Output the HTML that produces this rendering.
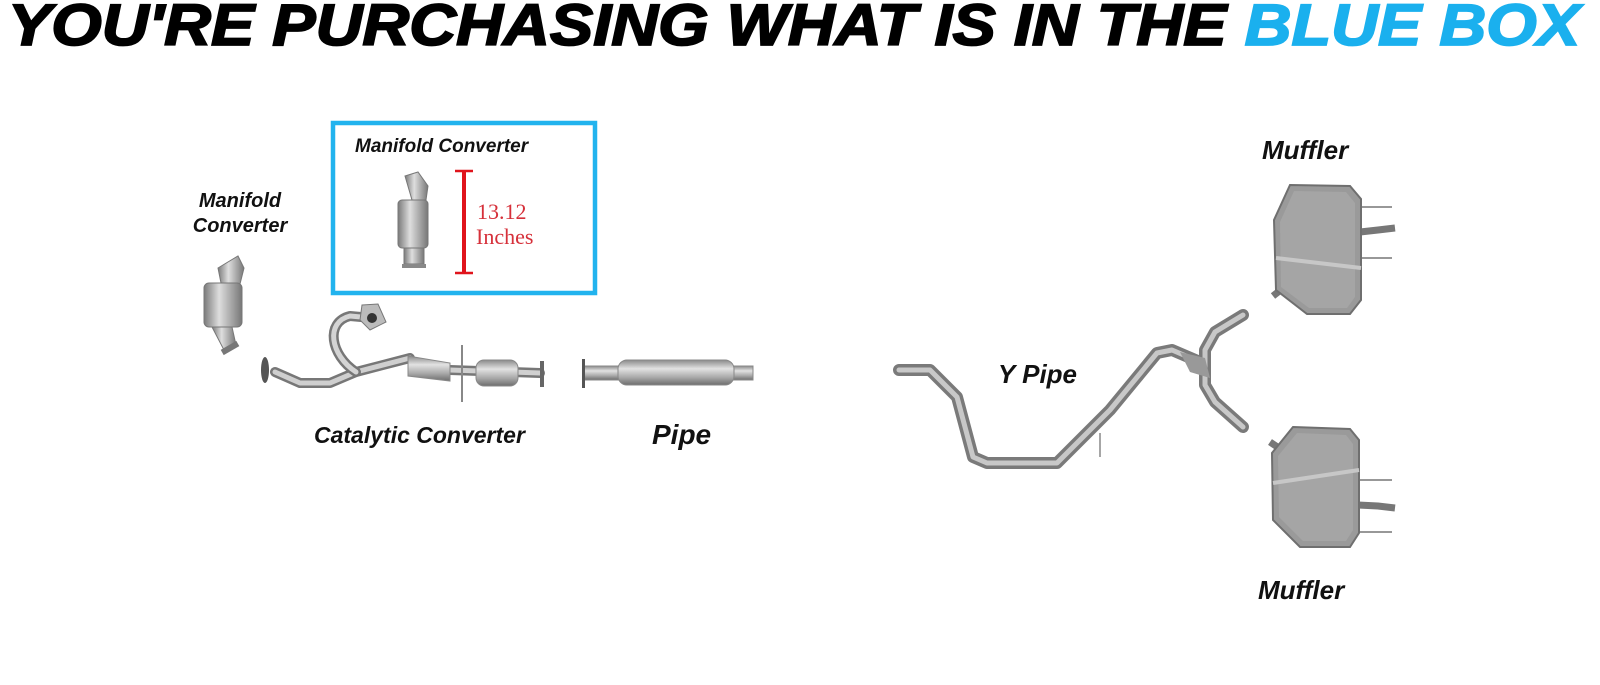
<!DOCTYPE html>
<html><head><meta charset="utf-8"><style>
html,body{margin:0;padding:0;background:#fff;}
svg{display:block;}
.lbl{font-family:"Liberation Sans",sans-serif;font-weight:bold;font-style:italic;fill:#111;}
</style></head><body>
<svg width="1600" height="685" viewBox="0 0 1600 685" xmlns="http://www.w3.org/2000/svg">
<defs>
<linearGradient id="gv" x1="0" y1="0" x2="0" y2="1">
<stop offset="0" stop-color="#8a8a8a"/><stop offset="0.35" stop-color="#e2e2e2"/><stop offset="0.7" stop-color="#a8a8a8"/><stop offset="1" stop-color="#6d6d6d"/></linearGradient>
<linearGradient id="gh" x1="0" y1="0" x2="1" y2="0">
<stop offset="0" stop-color="#7a7a7a"/><stop offset="0.4" stop-color="#dedede"/><stop offset="1" stop-color="#777"/></linearGradient>
</defs>
<!-- Title -->
<text x="8" y="45" font-family="Liberation Sans,sans-serif" font-weight="bold" font-style="italic" font-size="58" stroke-width="1.8" textLength="1572" lengthAdjust="spacingAndGlyphs"><tspan fill="#000" stroke="#000">YOU'RE PURCHASING WHAT IS IN THE </tspan><tspan fill="#1ab0ee" stroke="#1ab0ee">BLUE BOX</tspan></text>

<!-- Blue box -->
<rect x="333" y="123" width="262" height="170" fill="none" stroke="#22b3ee" stroke-width="4.5"/>
<text class="lbl" x="355" y="152" font-size="19">Manifold Converter</text>
<g>
<path d="M405 176 L418 172 L428 186 L426 200 L412 200 Z" fill="url(#gh)" stroke="#777"/>
<rect x="398" y="200" width="30" height="48" rx="4" fill="url(#gh)" stroke="#777"/>
<rect x="404" y="248" width="20" height="16" fill="url(#gh)" stroke="#777"/>
<rect x="402" y="264" width="24" height="4" fill="#888"/>
</g>
<line x1="464" y1="170" x2="464" y2="274" stroke="#e0141c" stroke-width="4"/>
<line x1="455" y1="171" x2="473" y2="171" stroke="#e0141c" stroke-width="2.5"/>
<line x1="455" y1="273" x2="473" y2="273" stroke="#e0141c" stroke-width="2.5"/>
<text x="477" y="219" font-family="Liberation Serif,serif" font-size="22" fill="#d6303a">13.12</text>
<text x="476" y="244" font-family="Liberation Serif,serif" font-size="22" fill="#d6303a">Inches</text>

<!-- Left manifold converter -->
<text class="lbl" x="240" y="207" font-size="20" text-anchor="middle">Manifold</text>
<text class="lbl" x="240" y="232" font-size="20" text-anchor="middle">Converter</text>
<g>
<path d="M218 268 L238 256 L244 268 L240 284 L222 288 Z" fill="url(#gh)" stroke="#777"/>
<rect x="204" y="283" width="38" height="44" rx="5" fill="url(#gh)" stroke="#777"/>
<path d="M212 327 L232 327 L236 345 L224 350 Z" fill="url(#gh)" stroke="#777"/>
<rect x="221" y="345" width="18" height="6" fill="#777" transform="rotate(-30 230 348)"/>
</g>

<!-- Catalytic converter assembly -->
<g fill="none" stroke-linecap="round" stroke-linejoin="round">
<path d="M275 372 L300 383 L330 383 L356 372 L410 358" stroke="#777" stroke-width="10"/>
<path d="M275 372 L300 383 L330 383 L356 372 L410 358" stroke="#cfcfcf" stroke-width="5"/>
<path d="M356 372 C330 355 325 322 350 316 L372 318" stroke="#777" stroke-width="10"/>
<path d="M356 372 C330 355 325 322 350 316 L372 318" stroke="#d4d4d4" stroke-width="5"/>
<path d="M450 370 L540 373" stroke="#777" stroke-width="10"/>
<path d="M450 370 L540 373" stroke="#d0d0d0" stroke-width="5"/>
</g>
<path d="M408 356 L450 363 L450 381 L408 376 Z" fill="url(#gv)" stroke="#888"/>
<rect x="476" y="360" width="42" height="26" rx="8" fill="url(#gv)" stroke="#888"/>
<line x1="462" y1="345" x2="462" y2="402" stroke="#888" stroke-width="2"/>
<rect x="540" y="361" width="4" height="26" fill="#666"/>
<ellipse cx="265" cy="370" rx="4" ry="13" fill="#555"/>
<path d="M362 305 L378 304 L386 322 L370 330 L360 320 Z" fill="#bbb" stroke="#777"/>
<circle cx="372" cy="318" r="5" fill="#333"/>
<text class="lbl" x="314" y="443" font-size="23">Catalytic Converter</text>

<!-- Pipe -->
<rect x="583" y="366" width="170" height="14" fill="url(#gv)" stroke="#888"/>
<rect x="618" y="360" width="116" height="25" rx="9" fill="url(#gv)" stroke="#888"/>
<rect x="582" y="359" width="3" height="29" fill="#555"/>
<text class="lbl" x="652" y="444" font-size="28">Pipe</text>

<!-- Y pipe -->
<g fill="none" stroke-linecap="round" stroke-linejoin="round">
<path d="M899 370 L930 370 L957 397 L973 457 L987 463 L1057 463 L1110 410 L1157 353 L1172 350 L1200 362" stroke="#7a7a7a" stroke-width="12"/>
<path d="M899 370 L930 370 L957 397 L973 457 L987 463 L1057 463 L1110 410 L1157 353 L1172 350 L1200 362" stroke="#c8c8c8" stroke-width="5"/>
<path d="M1243 315 L1215 332 L1205 350 L1205 385 L1215 402 L1243 427" stroke="#7a7a7a" stroke-width="12"/>
<path d="M1243 315 L1215 332 L1205 350 L1205 385 L1215 402 L1243 427" stroke="#c8c8c8" stroke-width="5"/>
</g>
<path d="M1180 352 L1205 358 L1210 378 L1190 372 Z" fill="#999"/>
<line x1="1100" y1="433" x2="1100" y2="457" stroke="#888" stroke-width="1.5"/>
<text class="lbl" x="998" y="383" font-size="26">Y Pipe</text>

<!-- Top muffler -->
<text class="lbl" x="1262" y="159" font-size="26">Muffler</text>
<g stroke="#777" fill="none">
<line x1="1360" y1="207" x2="1392" y2="207" stroke-width="1.5"/>
<line x1="1360" y1="258" x2="1392" y2="258" stroke-width="1.5"/>
<path d="M1360 232 L1378 230 L1395 228" stroke-width="7"/>
<path d="M1273 296 L1287 285" stroke-width="7"/>
</g>
<path d="M1290 185 L1350 186 L1361 199 L1361 300 L1350 314 L1307 314 L1276 290 L1274 220 Z" fill="#9a9a9a" stroke="#6f6f6f" stroke-width="2"/>
<path d="M1294 191 L1346 192 L1355 203 L1355 297 L1347 308 L1309 308 L1281 287 L1280 222 Z" fill="#a5a5a5"/>
<path d="M1276 258 L1361 268" stroke="#c7c7c7" stroke-width="4"/>

<!-- Bottom muffler -->
<text class="lbl" x="1258" y="599" font-size="26">Muffler</text>
<g stroke="#777" fill="none">
<line x1="1358" y1="480" x2="1392" y2="480" stroke-width="1.5"/>
<line x1="1358" y1="532" x2="1392" y2="532" stroke-width="1.5"/>
<path d="M1358 505 L1378 506 L1395 508" stroke-width="7"/>
<path d="M1270 442 L1285 452" stroke-width="7"/>
</g>
<path d="M1293 427 L1350 429 L1359 440 L1359 533 L1350 547 L1300 547 L1273 520 L1272 453 Z" fill="#9a9a9a" stroke="#6f6f6f" stroke-width="2"/>
<path d="M1297 433 L1346 435 L1353 444 L1353 530 L1346 541 L1303 541 L1279 517 L1278 456 Z" fill="#a5a5a5"/>
<path d="M1273 483 L1359 470" stroke="#c7c7c7" stroke-width="4"/>
</svg>
</body></html>
